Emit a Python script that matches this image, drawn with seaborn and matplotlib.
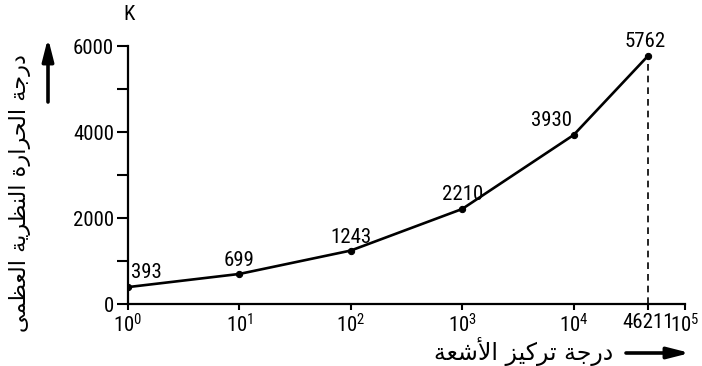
import numpy as np
import pandas as pd
import matplotlib
matplotlib.use("Agg")
import matplotlib.pyplot as plt
from matplotlib import font_manager
import seaborn as sns

# Radiation concentration (suns) and maximum theoretical temperature (K)
concentration = [1, 10, 100, 1000, 10000, 46211]
temperature = [393, 699, 1243, 2210, 3930, 5762]
value_labels = ["393", "699", "1243", "2210", "3930", "5762"]

x_ticks = [1, 10, 100, 1000, 10000, 46211, 100000]
x_tick_labels = ["$10^0$", "$10^1$", "$10^2$", "$10^3$", "$10^4$", "46211", "$10^5$"]
y_ticks = [0, 2000, 4000, 6000]
y_minor_ticks = [1000, 3000, 5000]

x_title = "درجة تركيز الأشعة"
y_title = "درجة الحرارة النظرية العظمى"
unit_label = "K"

# --- minimal Arabic shaping (contextual forms + visual order) -------------
FORMS = {
    "ا": ("\uFE8D", "\uFE8E", None, None),
    "أ": ("\uFE83", "\uFE84", None, None),
    "ة": ("\uFE93", "\uFE94", None, None),
    "ت": ("\uFE95", "\uFE96", "\uFE97", "\uFE98"),
    "ج": ("\uFE9D", "\uFE9E", "\uFE9F", "\uFEA0"),
    "ح": ("\uFEA1", "\uFEA2", "\uFEA3", "\uFEA4"),
    "د": ("\uFEA9", "\uFEAA", None, None),
    "ر": ("\uFEAD", "\uFEAE", None, None),
    "ز": ("\uFEAF", "\uFEB0", None, None),
    "ش": ("\uFEB5", "\uFEB6", "\uFEB7", "\uFEB8"),
    "ظ": ("\uFEC5", "\uFEC6", "\uFEC7", "\uFEC8"),
    "ع": ("\uFEC9", "\uFECA", "\uFECB", "\uFECC"),
    "ك": ("\uFED9", "\uFEDA", "\uFEDB", "\uFEDC"),
    "ل": ("\uFEDD", "\uFEDE", "\uFEDF", "\uFEE0"),
    "م": ("\uFEE1", "\uFEE2", "\uFEE3", "\uFEE4"),
    "ن": ("\uFEE5", "\uFEE6", "\uFEE7", "\uFEE8"),
    "ى": ("\uFEEF", "\uFEF0", None, None),
    "ي": ("\uFEF1", "\uFEF2", "\uFEF3", "\uFEF4"),
}
LAM_ALEF = {"ا": ("\uFEFB", "\uFEFC"), "أ": ("\uFEF7", "\uFEF8")}


def shape_arabic(text):
    out = []
    chars = list(text)
    i = 0
    while i < len(chars):
        c = chars[i]
        if c not in FORMS:
            out.append(c)
            i += 1
            continue
        prev = chars[i - 1] if i > 0 else None
        joins_prev = prev in FORMS and FORMS[prev][2] is not None
        if c == "ل" and i + 1 < len(chars) and chars[i + 1] in LAM_ALEF:
            iso, fin = LAM_ALEF[chars[i + 1]]
            out.append(fin if joins_prev else iso)
            i += 2
            continue
        nxt = chars[i + 1] if i + 1 < len(chars) else None
        joins_next = FORMS[c][2] is not None and nxt in FORMS
        iso, fin, ini, med = FORMS[c]
        if joins_prev and joins_next:
            out.append(med)
        elif joins_prev:
            out.append(fin)
        elif joins_next:
            out.append(ini)
        else:
            out.append(iso)
        i += 1
    return "".join(out)[::-1]


sns.set_theme(style="ticks")

# narrow face for the numbers, DejaVu Sans for the Arabic titles
installed = {f.name for f in font_manager.fontManager.ttflist}
num_font = "DejaVu Sans"
num_stretch = "normal"
num_size = 12
for name in ("Liberation Sans Narrow", "DejaVu Sans Condensed", "Roboto Condensed"):
    if name in installed:
        num_font = name
        num_size = 15
        break
else:
    if any(f.name == "DejaVu Sans" and f.stretch == "condensed"
           for f in font_manager.fontManager.ttflist):
        num_stretch = "condensed"
        num_size = 15

plt.rcParams["font.family"] = [num_font, "DejaVu Sans"]
plt.rcParams["font.stretch"] = num_stretch
plt.rcParams["mathtext.fontset"] = "custom"
plt.rcParams["mathtext.rm"] = num_font
plt.rcParams["mathtext.default"] = "rm"

df = pd.DataFrame({"concentration": concentration, "temperature": temperature})

fig = plt.figure(figsize=(7.02, 3.66), dpi=100)
ax = fig.add_axes([128 / 702, 62 / 366, 557 / 702, 258 / 366])
ax.set_xscale("log")

sns.lineplot(data=df, x="concentration", y="temperature", ax=ax,
             color="black", linewidth=1.9, marker="o", markersize=4.5,
             markeredgecolor="black", markerfacecolor="black")

# dashed drop line from the last point to the axis
ax.vlines(concentration[-1], 0, temperature[-1], colors="black",
          linestyles=(0, (4, 3)), linewidth=1.2)

ax.set_xlim(1, 100000)
ax.set_ylim(0, 6000)
ax.set_xticks(x_ticks)
ax.set_xticklabels(x_tick_labels)
ax.xaxis.set_minor_locator(matplotlib.ticker.NullLocator())
ax.set_yticks(y_ticks)
ax.set_yticks(y_minor_ticks, minor=True)
ax.set_xlabel("")
ax.set_ylabel("")

for s in ("top", "right"):
    ax.spines[s].set_visible(False)
for s in ("left", "bottom"):
    ax.spines[s].set_linewidth(1.6)
    ax.spines[s].set_color("black")

ax.tick_params(axis="x", which="major", direction="out", length=4.5,
               width=1.5, labelsize=num_size, pad=2, colors="black")
ax.tick_params(axis="y", which="major", direction="out", length=8,
               width=1.5, labelsize=num_size, pad=2, colors="black")
ax.tick_params(axis="y", which="minor", direction="out", length=8,
               width=1.5, colors="black")

# value labels next to each point
offsets = [(3, 5, "left"), (0, 4, "center"), (0, 4, "center"),
           (0, 5, "center"), (-22, 5, "center"), (-2, 5, "center")]
for xv, yv, lab, (dx, dy, ha) in zip(concentration, temperature, value_labels, offsets):
    ax.annotate(lab, xy=(xv, yv), xytext=(dx, dy), textcoords="offset pixels",
                ha=ha, va="bottom", fontsize=num_size, color="black")

# unit above the y axis
ax.annotate(unit_label, xy=(0, 1), xycoords="axes fraction", xytext=(1, 31),
            textcoords="offset pixels", ha="center", va="center",
            fontsize=num_size, color="black")

# axis titles with direction arrows
arabic_font = dict(family="DejaVu Sans", stretch="normal")
fig.text(524 / 702, 1 - 352 / 366, shape_arabic(x_title), ha="center",
         va="center", fontsize=17, color="black", **arabic_font)
fig.text(20 / 702, 1 - 193 / 366, shape_arabic(y_title), ha="center",
         va="center", rotation=90, fontsize=16, color="black", **arabic_font)

arrow_style = dict(arrowstyle="-|>,head_length=1.1,head_width=0.28",
                   color="black", lw=2.6, shrinkA=0, shrinkB=0)
ax.annotate("", xy=(690, 366 - 353), xytext=(626, 366 - 353),
            xycoords="figure pixels", textcoords="figure pixels",
            arrowprops=arrow_style, annotation_clip=False)
ax.annotate("", xy=(48, 366 - 38), xytext=(48, 366 - 102),
            xycoords="figure pixels", textcoords="figure pixels",
            arrowprops=arrow_style, annotation_clip=False)

fig.savefig("out.png", dpi=100, facecolor="white")
